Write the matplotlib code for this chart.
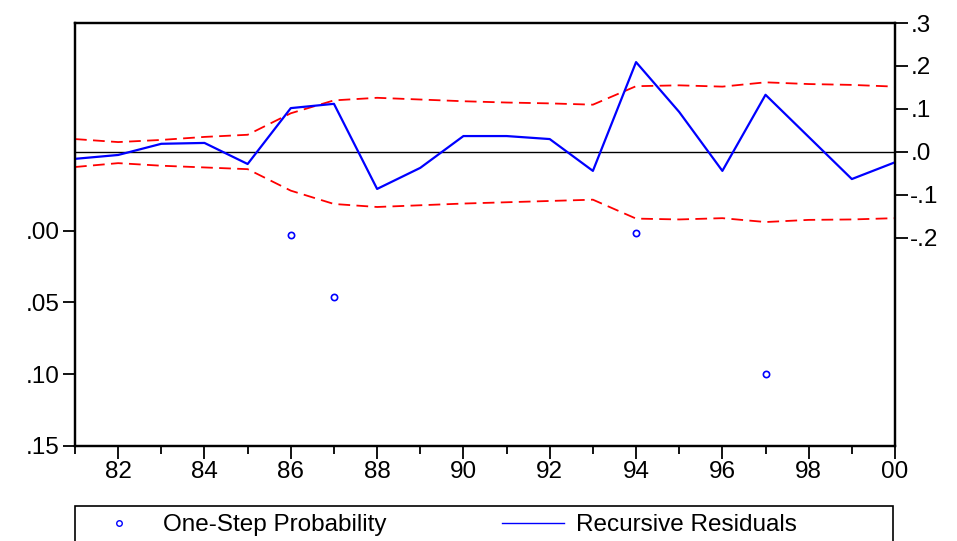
import numpy as np
import matplotlib
matplotlib.use('Agg')
import matplotlib.pyplot as plt
from matplotlib.lines import Line2D
from matplotlib.patches import Rectangle
from matplotlib.ticker import FixedLocator, MultipleLocator

plt.rcParams['font.family'] = ['Liberation Sans', 'DejaVu Sans']

years = np.arange(1981, 2001)

# recursive residuals (right axis)
resid = [-0.016, -0.007, 0.019, 0.021, -0.028, 0.102, 0.112, -0.086, -0.037, 0.037,
         0.037, 0.030, -0.044, 0.209, 0.093, -0.044, 0.133, 0.035, -0.063, -0.024]
upper = [0.030, 0.023, 0.028, 0.035, 0.040, 0.090, 0.120, 0.126, 0.122, 0.118,
         0.115, 0.113, 0.110, 0.153, 0.155, 0.152, 0.162, 0.158, 0.156, 0.152]
lower = [-0.035, -0.026, -0.032, -0.036, -0.040, -0.090, -0.121, -0.128, -0.124, -0.120,
         -0.117, -0.114, -0.111, -0.155, -0.157, -0.154, -0.163, -0.158, -0.157, -0.154]

# one-step probabilities (left axis), only those inside the plotted range
prob_years = [1986, 1987, 1994, 1997]
prob_vals = [0.003, 0.046, 0.0015, 0.100]

x_labels = ['82', '84', '86', '88', '90', '92', '94', '96', '98', '00']
left_ticks = [0.00, 0.05, 0.10, 0.15]
left_labels = ['.00', '.05', '.10', '.15']
right_ticks = [0.3, 0.2, 0.1, 0.0, -0.1, -0.2]
right_labels = ['.3', '.2', '.1', '.0', '-.1', '-.2']

FS = 17.5
W, H = 957, 541

fig = plt.figure(figsize=(W / 100, H / 100), dpi=100)
ax = fig.add_axes([75 / W, 1 - 446 / H, 820 / W, 423 / H])
ax2 = ax.twinx()

# left axis: probability
ax.set_ylim(0.15, -0.1445)
ax.set_xlim(1981, 2000)
ax.plot(prob_years, prob_vals, linestyle='none', marker='o', markersize=4.5,
        markerfacecolor='none', markeredgecolor='blue', markeredgewidth=1.2)
ax.set_yticks(left_ticks)
ax.set_yticklabels(left_labels)

# right axis: residuals and +/- 2 S.E.
ax2.set_ylim(-0.684, 0.3)
ax2.axhline(0, color='black', linewidth=1.0)
ax2.plot(years, upper, color='red', linewidth=1.3, dashes=(6.5, 3.5))
ax2.plot(years, lower, color='red', linewidth=1.3, dashes=(6.5, 3.5))
ax2.plot(years, resid, color='blue', linewidth=1.6)
ax2.set_yticks(right_ticks)
ax2.set_yticklabels(right_labels)

ax.xaxis.set_major_locator(FixedLocator(np.arange(1982, 2001, 2)))
ax.xaxis.set_minor_locator(MultipleLocator(1))
ax.set_xticklabels(x_labels)

for a in (ax, ax2):
    for s in a.spines.values():
        s.set_linewidth(1.6)
        s.set_color('black')
    a.tick_params(axis='both', which='major', direction='out', length=9, width=1.3,
                  labelsize=FS, pad=2)
    a.tick_params(axis='x', which='minor', direction='out', length=6, width=1.3)

# legend box below the plot, running off the bottom edge
fig.patches.append(Rectangle((75 / W, -0.02), 818 / W, 1 - 506 / H + 0.02,
                             transform=fig.transFigure, fill=False,
                             edgecolor='black', linewidth=1.2))
handles = [Line2D([], [], linestyle='none', marker='o', markersize=4, markerfacecolor='none',
                  markeredgecolor='blue', markeredgewidth=1.0),
           Line2D([], [], color='blue', linewidth=1.0)]
fs_px = FS * 100 / 72
fig.legend(handles, ['One-Step Probability', 'Recursive Residuals'],
           loc='center left', bbox_to_anchor=(88 / W, 1 - 525 / H),
           ncol=2, fontsize=FS, frameon=False, handlelength=62 / fs_px,
           handletextpad=13 / fs_px, columnspacing=115 / fs_px,
           borderpad=0, borderaxespad=0)

fig.savefig('out.png', dpi=100)
